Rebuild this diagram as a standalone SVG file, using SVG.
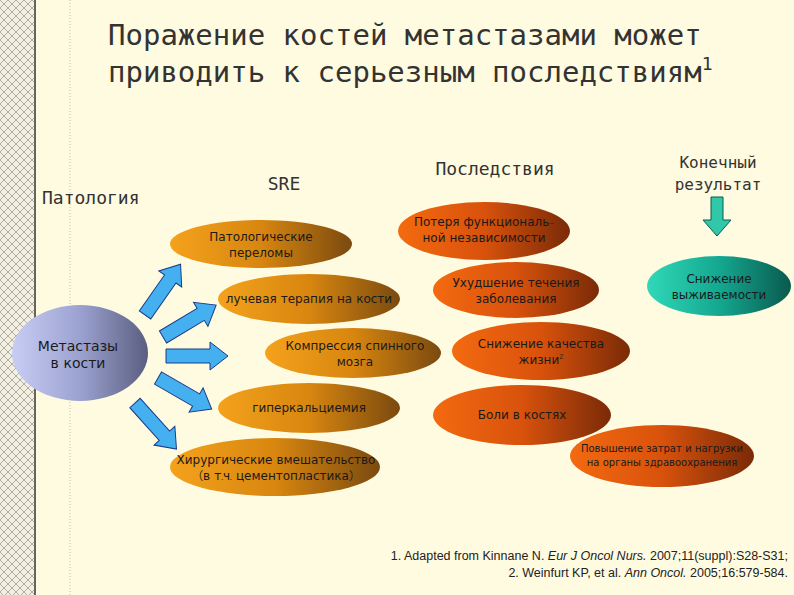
<svg xmlns="http://www.w3.org/2000/svg" width="794" height="595" viewBox="0 0 794 595">
<defs>
<pattern id="hatch" width="8" height="8" patternUnits="userSpaceOnUse">
<rect width="8" height="8" fill="#f4f0e0"/>
<path d="M0 0L8 8M8 0L0 8" stroke="#9a9a9a" stroke-width="0.8"/>
</pattern>
<linearGradient id="gold" x1="0" x2="1"><stop offset="0" stop-color="#f4a21c"/><stop offset="0.5" stop-color="#d8860f"/><stop offset="1" stop-color="#7a4a10"/></linearGradient>
<linearGradient id="red" x1="0" x2="1"><stop offset="0" stop-color="#f46a10"/><stop offset="0.5" stop-color="#d8520c"/><stop offset="1" stop-color="#7a2a08"/></linearGradient>
<linearGradient id="teal" x1="0" x2="1"><stop offset="0" stop-color="#30d8b8"/><stop offset="0.5" stop-color="#14a890"/><stop offset="1" stop-color="#0a5a4e"/></linearGradient>
<linearGradient id="lav" x1="0" x2="1"><stop offset="0" stop-color="#c8cdf4"/><stop offset="0.5" stop-color="#9ca2d0"/><stop offset="1" stop-color="#5a5e80"/></linearGradient>
<polygon id="barrow" points="0,-7 44,-7 44,-14 62,0 44,14 44,7 0,7" fill="#44b0f0" stroke="#1a3a8a" stroke-width="1"/>
</defs>
<style>
.t{font-family:"Comic Neue","DejaVu Sans",sans-serif;fill:#1a1a1a;text-anchor:middle}
.h{font-family:"DejaVu Sans Mono",monospace;fill:#333;}
.s{font-size:12px}
</style>
<rect width="794" height="595" fill="#fffbe0"/>
<rect x="0" y="0" width="34" height="595" fill="url(#hatch)"/>
<line x1="35" y1="0" x2="35" y2="595" stroke="#333" stroke-width="1.5"/>
<line x1="70" y1="0" x2="70" y2="595" stroke="#c8c0a0" stroke-width="1" stroke-dasharray="1,2"/>
<text class="h" x="108" y="45" font-size="29">Поражение костей метастазами может</text>
<text class="h" x="108" y="82" font-size="29">приводить к серьезным последствиям<tspan font-size="18" dy="-12">1</tspan></text>
<text class="h" x="42" y="204" font-size="18">Патология</text>
<text class="h" x="284" y="190" font-size="18" text-anchor="middle">SRE</text>
<text class="h" x="495" y="175" font-size="18" text-anchor="middle">Последствия</text>
<text class="h" x="718" y="168" font-size="16" text-anchor="middle">Конечный</text>
<text class="h" x="718" y="190" font-size="16" text-anchor="middle">результат</text>
<g id="connectors">
<use href="#barrow" transform="translate(145,315) rotate(-55)"/>
<use href="#barrow" transform="translate(163,337) rotate(-31)"/>
<use href="#barrow" transform="translate(166,356)"/>
<use href="#barrow" transform="translate(158,378) rotate(30)"/>
<use href="#barrow" transform="translate(135,403) rotate(48)"/>
<polygon points="711,197 723,197 723,220 731,220 717,236 703,220 711,220" fill="#30c8a8" stroke="#0a5a4e" stroke-width="1"/>
</g>
<g id="n-met"><ellipse cx="80" cy="353" rx="68" ry="48" fill="url(#lav)"/><text class="t" font-size="14" x="78" y="351">Метастазы</text><text class="t" font-size="14" x="78" y="368">в кости</text></g>
<g id="n-pp"><ellipse cx="261" cy="244" rx="91" ry="24" fill="url(#gold)"/><text class="t s" x="261" y="241">Патологические</text><text class="t s" x="261" y="257">переломы</text></g>
<g id="n-lt"><ellipse cx="309" cy="299" rx="91" ry="25" fill="url(#gold)"/><text class="t s" x="309" y="303">лучевая терапия на кости</text></g>
<g id="n-ks"><ellipse cx="353" cy="353" rx="88" ry="25" fill="url(#gold)"/><text class="t s" x="355" y="350">Компрессия спинного</text><text class="t s" x="355" y="366">мозга</text></g>
<g id="n-gk"><ellipse cx="309" cy="408" rx="91" ry="25" fill="url(#gold)"/><text class="t s" x="309" y="412">гиперкальциемия</text></g>
<g id="n-hv"><ellipse cx="275" cy="467" rx="105" ry="29" fill="url(#gold)"/><text class="t s" x="276" y="464">Хирургические вмешательство</text><text class="t s" x="276" y="480">(в т.ч. цементопластика)</text></g>
<g id="n-pf"><ellipse cx="484" cy="231" rx="86" ry="29" fill="url(#red)"/><text class="t s" x="484" y="226">Потеря функциональ-</text><text class="t s" x="484" y="242">ной независимости</text></g>
<g id="n-ut"><ellipse cx="516" cy="290" rx="83" ry="28" fill="url(#red)"/><text class="t s" x="516" y="287">Ухудшение течения</text><text class="t s" x="516" y="303">заболевания</text></g>
<g id="n-sk"><ellipse cx="541" cy="351" rx="89" ry="29" fill="url(#red)"/><text class="t s" x="541" y="348">Снижение качества</text><text class="t s" x="541" y="364">жизни<tspan font-size="8" dy="-5">2</tspan></text></g>
<g id="n-bk"><ellipse cx="522" cy="415" rx="89" ry="30" fill="url(#red)"/><text class="t s" x="522" y="419">Боли в костях</text></g>
<g id="n-pz"><ellipse cx="662" cy="456" rx="92" ry="31" fill="url(#red)"/><text class="t" font-size="10" x="662" y="452">Повышение затрат и нагрузки</text><text class="t" font-size="10" x="662" y="466">на органы здравоохранения</text></g>
<g id="n-sv"><ellipse cx="719" cy="286" rx="72" ry="30" fill="url(#teal)"/><text class="t s" x="719" y="283">Снижение</text><text class="t s" x="719" y="299">выживаемости</text></g>
<text font-family="'Liberation Sans',sans-serif" font-size="12.5" fill="#222" text-anchor="end" x="788" y="560">1. Adapted from Kinnane N. <tspan font-style="italic">Eur J Oncol Nurs.</tspan> 2007;11(suppl):S28-S31;</text>
<text font-family="'Liberation Sans',sans-serif" font-size="12.5" fill="#222" text-anchor="end" x="788" y="577">2. Weinfurt KP, et al. <tspan font-style="italic">Ann Oncol.</tspan> 2005;16:579-584.</text>
</svg>
